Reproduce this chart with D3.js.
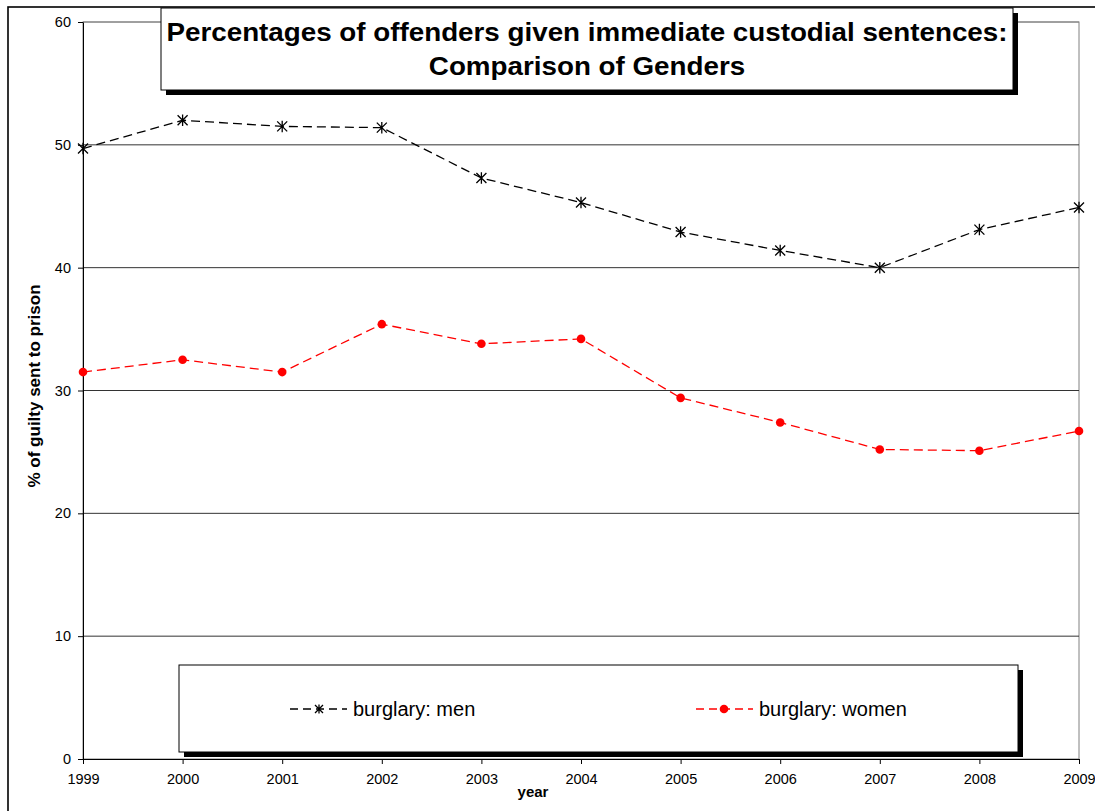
<!DOCTYPE html>
<html>
<head>
<meta charset="utf-8">
<script src="https://cdn.jsdelivr.net/npm/d3@7"></script>
<style>
  html, body { margin: 0; padding: 0; background: #fff; }
  svg { display: block; font-family: "Liberation Sans", Arial, sans-serif; }
</style>
</head>
<body>
<svg id="chart" width="1095" height="811"></svg>
<script>
// Percentage of guilty burglary offenders sent to prison, by year and gender
const years = [1999, 2000, 2001, 2002, 2003, 2004, 2005, 2006, 2007, 2008, 2009];
const menValues = [49.7, 52.0, 51.5, 51.4, 47.3, 45.3, 42.9, 41.4, 40.0, 43.1, 44.9];
const womenValues = [31.5, 32.5, 31.5, 35.4, 33.8, 34.2, 29.4, 27.4, 25.2, 25.1, 26.7];
const yTicks = [0, 10, 20, 30, 40, 50, 60];
const seriesNames = ["burglary: men", "burglary: women"];
const titleLines = ["Percentages of offenders given immediate custodial sentences:", "Comparison of Genders"];
const yAxisTitle = "% of guilty sent to prison";
const xAxisTitle = "year";

const svg = d3.select("#chart");

const plot = { left: 83, right: 1079, top: 22, bottom: 759 };
const x = d3.scaleLinear().domain([1999, 2009]).range([plot.left, plot.right]);
const y = d3.scaleLinear().domain([0, 60]).range([plot.bottom, plot.top]);

// Outer chart frame (runs off the right and bottom edges)
svg.append("rect")
  .attr("x", 8).attr("y", 7)
  .attr("width", 1200).attr("height", 900)
  .attr("fill", "none").attr("stroke", "#000").attr("stroke-width", 1.6);

// Plot area border
svg.append("rect")
  .attr("x", plot.left).attr("y", plot.top)
  .attr("width", plot.right - plot.left).attr("height", plot.bottom - plot.top)
  .attr("fill", "none").attr("stroke", "#808080").attr("stroke-width", 1);

// Horizontal gridlines
svg.append("g").selectAll("line")
  .data(yTicks.filter(d => d > 0))
  .join("line")
  .attr("x1", plot.left).attr("x2", plot.right)
  .attr("y1", d => y(d)).attr("y2", d => y(d))
  .attr("stroke", d => d === 60 ? "#808080" : "#333")
  .attr("stroke-width", 1);

// Axes
const yAxis = svg.append("g")
  .attr("transform", `translate(${plot.left},0)`)
  .call(d3.axisLeft(y).tickValues(yTicks).tickSize(5).tickSizeOuter(0).tickPadding(7));
const xAxis = svg.append("g")
  .attr("transform", `translate(0,${plot.bottom})`)
  .call(d3.axisBottom(x).tickValues(years).tickFormat(d3.format("d")).tickSize(5).tickSizeOuter(0).tickPadding(10));
[yAxis, xAxis].forEach(g => {
  g.select(".domain").attr("stroke", "#000").attr("stroke-width", 1);
  g.selectAll(".tick line").attr("stroke", "#000");
  g.selectAll(".tick text")
    .attr("font-family", "'Liberation Sans', Arial, sans-serif")
    .attr("font-size", 14.5).attr("fill", "#000");
});

// Axis titles
svg.append("text")
  .attr("transform", "translate(40,386) rotate(-90)")
  .attr("text-anchor", "middle")
  .attr("font-weight", "bold").attr("font-size", 16)
  .attr("textLength", 203).attr("lengthAdjust", "spacingAndGlyphs")
  .text(yAxisTitle);
svg.append("text")
  .attr("x", 533).attr("y", 797)
  .attr("text-anchor", "middle")
  .attr("font-weight", "bold").attr("font-size", 15)
  .text(xAxisTitle);

// Series lines and markers
const line = d3.line().x((d, i) => x(years[i])).y(d => y(d));

svg.append("path")
  .datum(menValues)
  .attr("d", line)
  .attr("fill", "none").attr("stroke", "#000")
  .attr("stroke-width", 1.3).attr("stroke-dasharray", "9,5");

svg.append("path")
  .datum(womenValues)
  .attr("d", line)
  .attr("fill", "none").attr("stroke", "#ff0000")
  .attr("stroke-width", 1.3).attr("stroke-dasharray", "9,5");

function starPath(s) {
  return `M${-s},${-s}L${s},${s}M${-s},${s}L${s},${-s}M0,${-s * 1.15}L0,${s * 1.15}`;
}

svg.append("g").selectAll("path")
  .data(menValues)
  .join("path")
  .attr("transform", (d, i) => `translate(${x(years[i])},${y(d)})`)
  .attr("d", starPath(5))
  .attr("fill", "none").attr("stroke", "#000").attr("stroke-width", 1.3);

svg.append("g").selectAll("circle")
  .data(womenValues)
  .join("circle")
  .attr("cx", (d, i) => x(years[i]))
  .attr("cy", d => y(d))
  .attr("r", 4.3)
  .attr("fill", "#ff0000");

// Title box with drop shadow
const tb = { x: 161, y: 8, w: 852, h: 82 };
svg.append("rect")
  .attr("x", tb.x + 5).attr("y", tb.y + 5).attr("width", tb.w).attr("height", tb.h)
  .attr("fill", "#000");
svg.append("rect")
  .attr("x", tb.x).attr("y", tb.y).attr("width", tb.w).attr("height", tb.h)
  .attr("fill", "#fff").attr("stroke", "#000").attr("stroke-width", 1);

const titleGroup = svg.append("g")
  .attr("font-weight", "bold").attr("font-size", 26).attr("text-anchor", "middle");
const t1 = titleGroup.append("text").attr("x", 587).attr("y", 41).text(titleLines[0]);
const t2 = titleGroup.append("text").attr("x", 587).attr("y", 75).text(titleLines[1]);
const targetWidth = 841;
const k = targetWidth / t1.node().getComputedTextLength();
t1.attr("textLength", targetWidth).attr("lengthAdjust", "spacingAndGlyphs");
t2.attr("textLength", t2.node().getComputedTextLength() * k).attr("lengthAdjust", "spacingAndGlyphs");

// Legend box with drop shadow
const lb = { x: 179, y: 665, w: 839, h: 87 };
svg.append("rect")
  .attr("x", lb.x + 5).attr("y", lb.y + 5).attr("width", lb.w).attr("height", lb.h)
  .attr("fill", "#000");
svg.append("rect")
  .attr("x", lb.x).attr("y", lb.y).attr("width", lb.w).attr("height", lb.h)
  .attr("fill", "#fff").attr("stroke", "#000").attr("stroke-width", 1);

const legendItems = [
  { name: seriesNames[0], x0: 290, color: "#000", marker: "star" },
  { name: seriesNames[1], x0: 696, color: "#ff0000", marker: "dot" }
];
const legendY = 709;
legendItems.forEach(item => {
  const g = svg.append("g");
  g.append("line")
    .attr("x1", item.x0).attr("x2", item.x0 + 57)
    .attr("y1", legendY).attr("y2", legendY)
    .attr("stroke", item.color).attr("stroke-width", 1.6).attr("stroke-dasharray", "8,5");
  if (item.marker === "star") {
    g.append("path")
      .attr("transform", `translate(${item.x0 + 29},${legendY})`)
      .attr("d", starPath(4))
      .attr("fill", "none").attr("stroke", item.color).attr("stroke-width", 1.3);
  } else {
    g.append("circle")
      .attr("cx", item.x0 + 28).attr("cy", legendY).attr("r", 4.3)
      .attr("fill", item.color);
  }
  g.append("text")
    .attr("x", item.x0 + 63).attr("y", legendY + 7)
    .attr("font-size", 20).attr("fill", "#000")
    .text(item.name);
});
</script>
</body>
</html>
